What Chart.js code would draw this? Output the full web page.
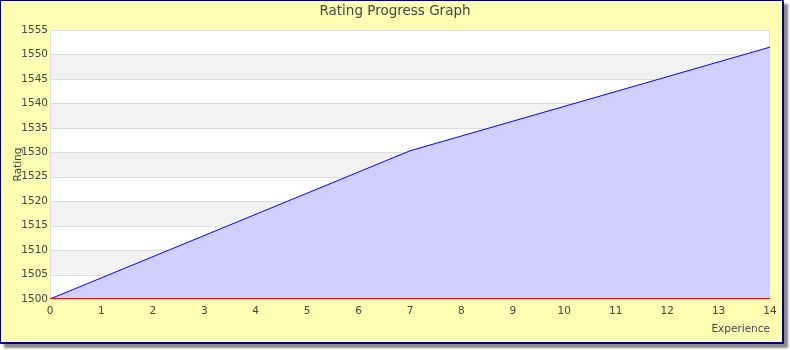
<!DOCTYPE html>
<html>
<head>
<meta charset="utf-8">
<script src="https://cdn.jsdelivr.net/npm/chart.js@4/dist/chart.umd.min.js"></script>
<style>
    html, body { margin: 0; padding: 0; background: #ffffff; }
    #wrap { position: relative; width: 790px; height: 350px; }
    #frame {
        position: absolute; left: 0; top: 0;
        width: 784px; height: 344px; box-sizing: border-box;
        background: #ffffb3;
        border: 1px solid #000080;
        border-right-width: 2px; border-bottom-width: 2px;
        box-shadow: 4px 4px 2px #8a8a8a;
    }
    #chart { position: absolute; left: 0; top: 0; }
</style>
</head>
<body>
<div id="wrap">
    <div id="frame"></div>
    <canvas id="chart" width="790" height="350"></canvas>
</div>
<script>
// Chart data
const experience = [0, 7, 14];
const rating = [1500, 1530.3, 1551.5];

const chartTitle = 'Rating Progress Graph';
const xTitle = 'Experience';
const yTitle = 'Rating';

const textColor = '#444444';
const fontFamily = "'DejaVu Sans', sans-serif";

// Alternating white / light gray bands behind the plot, plus plot border
const bandsPlugin = {
    id: 'bands',
    beforeDatasetsDraw(chart) {
        const { ctx, chartArea } = chart;
        const y = chart.scales.y;
        ctx.save();
        ctx.fillStyle = '#ffffff';
        ctx.fillRect(chartArea.left, chartArea.top, chartArea.right - chartArea.left, chartArea.bottom - chartArea.top);
        let index = 0;
        for (let v = y.max; v > y.min; v -= 5) {
            if (index % 2 === 1) {
                const top = y.getPixelForValue(v);
                const bottom = y.getPixelForValue(v - 5);
                ctx.fillStyle = '#f2f2f2';
                ctx.fillRect(chartArea.left, top, chartArea.right - chartArea.left, bottom - top);
            }
            index++;
        }
        // grid lines on top of the bands
        ctx.strokeStyle = '#dddddd';
        ctx.lineWidth = 1;
        for (let v = y.max; v > y.min; v -= 5) {
            const py = Math.round(y.getPixelForValue(v)) + 0.5;
            ctx.beginPath();
            ctx.moveTo(chartArea.left, py);
            ctx.lineTo(chartArea.right, py);
            ctx.stroke();
        }
        ctx.beginPath();
        ctx.moveTo(chartArea.left + 0.5, chartArea.top);
        ctx.lineTo(chartArea.left + 0.5, chartArea.bottom);
        ctx.moveTo(chartArea.right - 0.5, chartArea.top);
        ctx.lineTo(chartArea.right - 0.5, chartArea.bottom);
        ctx.stroke();
        ctx.restore();
    },
    afterDatasetsDraw(chart) {
        const { ctx, chartArea } = chart;
        ctx.save();
        ctx.strokeStyle = '#ff0000';
        ctx.lineWidth = 1;
        ctx.beginPath();
        ctx.moveTo(chartArea.left, Math.round(chartArea.bottom) - 0.5);
        ctx.lineTo(chartArea.right, Math.round(chartArea.bottom) - 0.5);
        ctx.stroke();
        ctx.restore();
    }
};

const points = experience.map((x, i) => ({ x: x, y: rating[i] }));

new Chart(document.getElementById('chart'), {
    type: 'line',
    data: {
        datasets: [{
            label: yTitle,
            data: points,
            borderColor: '#0000ff',
            borderWidth: 1,
            backgroundColor: '#d0d0ff',
            fill: 'start',
            pointRadius: 0,
            tension: 0
        }]
    },
    options: {
        responsive: false,
        animation: false,
        layout: { padding: 0 },
        plugins: {
            legend: { display: false },
            tooltip: { enabled: false },
            title: {
                display: true,
                text: chartTitle,
                color: textColor,
                font: { family: fontFamily, size: 13.5, weight: 'normal' },
                padding: { top: 3.5, bottom: 10.3 }
            }
        },
        scales: {
            x: {
                type: 'linear',
                min: 0,
                max: 14,
                ticks: {
                    stepSize: 1,
                    color: textColor,
                    padding: 6,
                    font: { family: fontFamily, size: 10.5 },
                    callback: (v) => String(v)
                },
                grid: { display: false, drawTicks: false },
                border: { display: false },
                title: {
                    display: true,
                    text: xTitle,
                    align: 'end',
                    color: textColor,
                    font: { family: fontFamily, size: 10.5 },
                    padding: { top: 0, bottom: 14.5 }
                },
                afterFit(scale) { scale.height = 51; }
            },
            y: {
                min: 1500,
                max: 1555,
                ticks: {
                    stepSize: 5,
                    color: textColor,
                    padding: 2,
                    font: { family: fontFamily, size: 10.5 },
                    callback: (v) => String(v)
                },
                grid: { display: false, drawTicks: false },
                border: { display: false },
                title: {
                    display: true,
                    text: yTitle,
                    color: textColor,
                    font: { family: fontFamily, size: 10.5 },
                    padding: { top: 12, bottom: 0 }
                },
                afterFit(scale) { scale.width = 50; }
            },
            // empty right-side axis that only reserves the right margin
            yRight: {
                position: 'right',
                min: 1500,
                max: 1555,
                ticks: { display: false },
                grid: { display: false, drawTicks: false },
                border: { display: false },
                afterFit(scale) { scale.width = 20; }
            }
        }
    },
    plugins: [bandsPlugin]
});
</script>
</body>
</html>
